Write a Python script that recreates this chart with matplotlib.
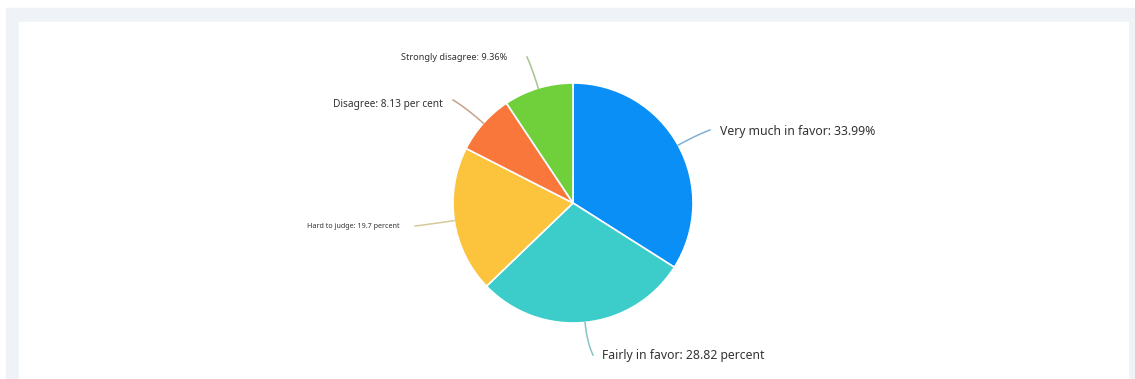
import matplotlib.pyplot as plt
import matplotlib.patches as mpatches
import numpy as np

plt.rcParams['font.family'] = ['Noto Sans', 'DejaVu Sans']

labels = ['Very much in favor', 'Fairly in favor', 'Hard to judge', 'Disagree', 'Strongly disagree']
values = [33.99, 28.82, 19.7, 8.13, 9.36]
label_texts = ['Very much in favor: 33.99%', 'Fairly in favor: 28.82 percent',
               'Hard to judge: 19.7 percent', 'Disagree: 8.13 per cent',
               'Strongly disagree: 9.36%']
colors = ['#0a8ff7', '#3ccdcb', '#fcc33d', '#f9773b', '#70d03c']
line_colors = ['#7fb0d6', '#88c4c2', '#d9c79a', '#c9a08c', '#a3c48f']

W, H = 1135, 379
fig = plt.figure(figsize=(W / 100, H / 100), dpi=100)
fig.patch.set_facecolor('white')
ax = fig.add_axes([0, 0, 1, 1])

# page background and white panel
ax.add_patch(mpatches.Rectangle((6, -20), W, H - 8 + 20, color='#eff3f7', zorder=0))
ax.add_patch(mpatches.Rectangle((19, -20), 1109, H - 22 + 20, color='white', zorder=0))

cx, cy, r = 573, H - 203, 120
wedges, _ = ax.pie(values, colors=colors, startangle=90, counterclock=False,
                   center=(cx, cy), radius=r, frame=True,
                   wedgeprops=dict(edgecolor='white', linewidth=1.2))
ax.set_xlim(0, W)
ax.set_ylim(0, H)
ax.set_aspect('auto')
ax.axis('off')

# label placement (pixel coords, y from top), font sizes, leader ends
text_pos = [(720, 131), (602, 355), (400, 227), (443, 104), (507, 57)]
text_ha = ['left', 'left', 'right', 'right', 'right']
font_sizes = [8.8, 8.8, 5.2, 7.3, 6.6]
ends = [(710, 130), (593, 355), (415, 226), (453, 100), (527, 57)]

for w, txt, (tx, ty), ha, fs, (ex, ey), lc in zip(wedges, label_texts, text_pos, text_ha,
                                                    font_sizes, ends, line_colors):
    mid = np.deg2rad((w.theta1 + w.theta2) / 2)
    sx, sy = cx + r * np.cos(mid), cy + r * np.sin(mid)
    ey = H - ey
    d = np.hypot(ex - sx, ey - sy)
    px, py = sx + 0.6 * d * np.cos(mid), sy + 0.6 * d * np.sin(mid)
    t = np.linspace(0, 1, 30)[:, None]
    pts = (1 - t) ** 2 * np.array([sx, sy]) + 2 * (1 - t) * t * np.array([px, py]) \
        + t ** 2 * np.array([ex, ey])
    ax.plot(pts[:, 0], pts[:, 1], color=lc, lw=1.1, zorder=1)
    ax.text(tx, H - ty, txt, ha=ha, va='center', fontsize=fs, color='#333333')

fig.savefig('out.png', dpi=100)
